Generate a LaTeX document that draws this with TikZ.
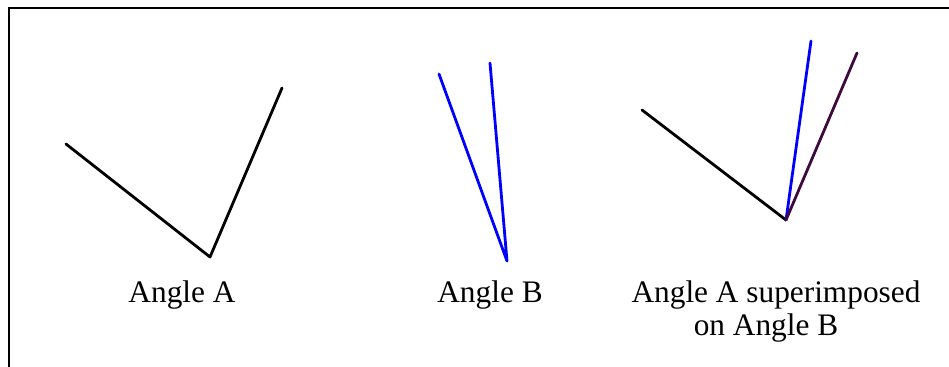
\documentclass[tikz,border=0pt]{standalone}
\usepackage{fontspec}
\setmainfont{Liberation Serif}
\definecolor{overlap}{RGB}{60,10,60}
\tikzset{
  ray/.style={line width=2.1pt,line cap=round,line join=round},
  caption/.style={anchor=base,inner sep=0pt,font=\fontsize{23.5pt}{28pt}\selectfont}
}
\begin{document}
\begin{tikzpicture}[x=0.75pt,y=-0.75pt]
            \useasboundingbox (0,0) rectangle (949,367);
            \draw[line width=2pt] (9,367) -- (9,8) -- (949,8);
            \coordinate (aL) at (66,144);
            \coordinate (aV) at (210,257);
            \coordinate (aR) at (282,88);
            \draw[ray,black] (aL) -- (aV) -- (aR);
            \coordinate (bL) at (439,74);
            \coordinate (bV) at (507,261);
            \coordinate (bR) at (490,63);
            \draw[ray,blue] (bL) -- (bV) -- (bR);
            \coordinate (sL) at (642,110);
            \coordinate (sV) at (786,220);
            \coordinate (sB) at (811,41);
            \coordinate (sR) at (857,53);
            \draw[ray,black] (sL) -- (sV);
            \draw[ray,blue] (sV) -- (sB);
            \draw[ray,overlap] (sV) -- (sR);
            \node[caption] (capA) at (182,302) {Angle A};
            \node[caption] (capB) at (490,302) {Angle B};
            \node[caption] (capS) at (776,302) {Angle A superimposed};
            \node[caption] (capT) at (766,335) {on Angle B};
          \end{tikzpicture}
\end{document}
